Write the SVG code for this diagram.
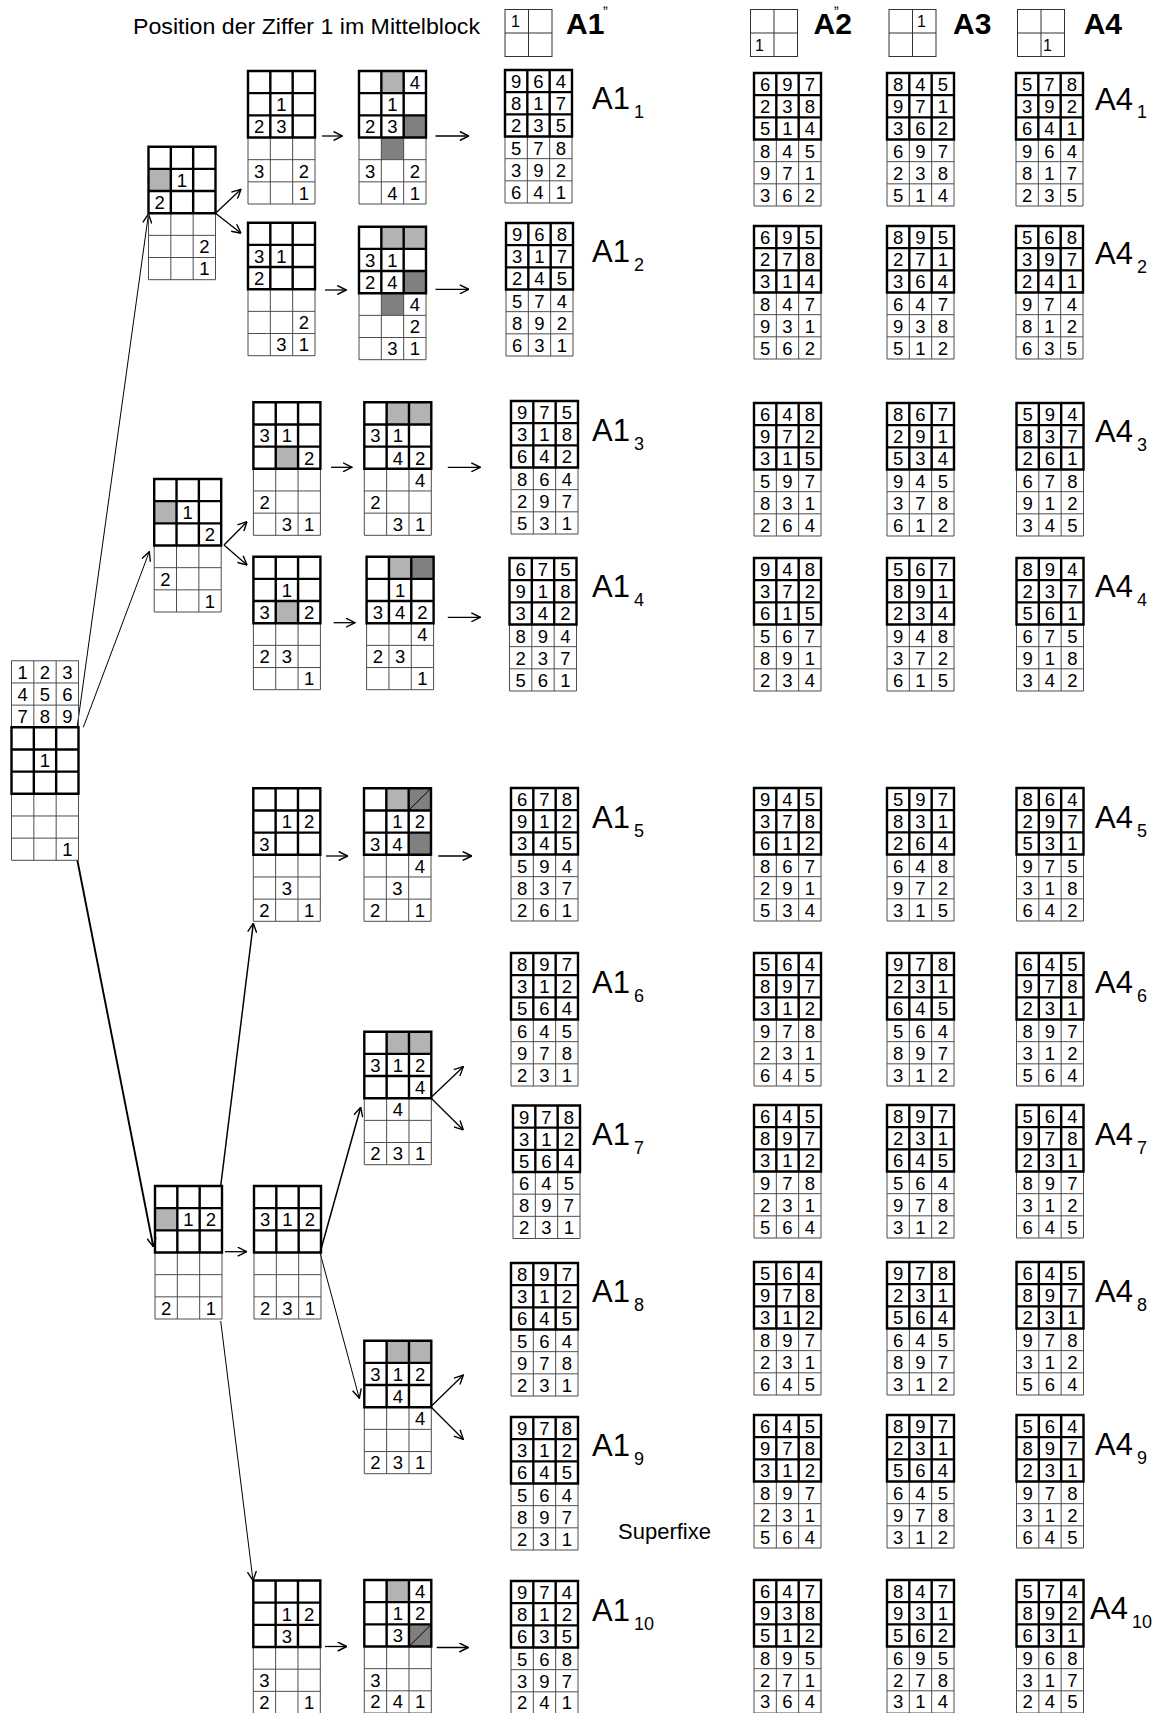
<svg xmlns="http://www.w3.org/2000/svg" xmlns:xlink="http://www.w3.org/1999/xlink" width="1161" height="1713" viewBox="0 0 1161 1713">
<style>
text{font-family:"Liberation Sans",Arial,sans-serif;fill:#000}
.d{font-size:18.5px;text-anchor:middle}
.thin{fill:none;stroke:#4d4d4d;stroke-width:1}
.thick{fill:none;stroke:#000;stroke-width:2.4}
.lg{fill:#b3b3b3}
.dg{fill:#808080}
.hb{fill:none;stroke:#333;stroke-width:1}
.hn{font-size:16px}
.hl{font-size:30px;font-weight:bold}
.lbl{font-size:31px}
.sub{font-size:18px}
.cn line{fill:none;stroke:#000;stroke-width:1.3;marker-end:url(#ah)}
.cn line.a{stroke-width:1}
.cn line.b{stroke-width:1.9}
.cn line.m{stroke-width:1.5}
.dl{stroke:#000;stroke-width:1}
</style>
<defs>
<marker id="ah" viewBox="0 0 10 10" refX="9.5" refY="5" markerWidth="10" markerHeight="10" markerUnits="userSpaceOnUse" orient="auto"><path d="M0.5,0.5L9.5,5L0.5,9.5" fill="none" stroke="#000" stroke-width="1.4"/></marker>
<g id="rg">
<path class="thin" d="M0,66.5V133H67V66.5M22.33,66.5V133M44.67,66.5V133M0,88.67H67M0,110.83H67"/>
<path class="thick" d="M0,0H67V66.5H0ZM22.33,0V66.5M44.67,0V66.5M0,22.17H67M0,44.33H67"/>
</g>
<g id="hbx"><rect class="hb" x="0" y="0" width="47" height="47"/><path class="hb" d="M23.5,0V47M0,23.5H47"/></g>
</defs>
<rect width="1161" height="1713" fill="#fff"/>

<g id="header">
<text x="133" y="34" font-size="22" textLength="347" lengthAdjust="spacingAndGlyphs">Position der Ziffer 1 im Mittelblock</text>
<use href="#hbx" x="505" y="9.5"/><text class="hn" x="511" y="27">1</text>
<text class="hl" x="566" y="34.3">A1</text>
<use href="#hbx" x="750.5" y="9.5"/><text class="hn" x="755" y="51">1</text>
<text class="hl" x="813.6" y="34.3">A2</text>
<use href="#hbx" x="889" y="9.5"/><text class="hn" x="917" y="27">1</text>
<text class="hl" x="953" y="34.3">A3</text>
<use href="#hbx" x="1017.5" y="9.5"/><text class="hn" x="1043" y="51">1</text>
<text class="hl" x="1083.7" y="34.3">A4</text>
<text x="603" y="8" font-size="14">„</text>
<text x="834" y="8" font-size="14">„</text>
</g>

<g id="connectors" class="cn">
<line class="a" x1="77.3" y1="726" x2="148.5" y2="214"/>
<line class="a" x1="83.3" y1="727.3" x2="149.3" y2="551.7"/>
<line class="b" x1="77.3" y1="860" x2="153.3" y2="1246.7"/>
<line x1="215.5" y1="213.3" x2="241" y2="189.3"/>
<line x1="215.5" y1="213.3" x2="241" y2="233.3"/>
<line x1="322" y1="136" x2="342.5" y2="136"/>
<line x1="435.5" y1="136" x2="468.8" y2="136"/>
<line x1="325" y1="290" x2="346.3" y2="290"/>
<line x1="435.5" y1="289.3" x2="468.8" y2="289.3"/>
<line x1="224" y1="545" x2="247" y2="521.7"/>
<line x1="224" y1="545" x2="247" y2="565"/>
<line x1="331" y1="467.3" x2="352" y2="467.3"/>
<line x1="447.8" y1="467.3" x2="480.3" y2="467.3"/>
<line x1="333.7" y1="622.7" x2="355" y2="622.7"/>
<line x1="447.8" y1="617.3" x2="480.3" y2="617.3"/>
<line class="m" x1="220.7" y1="1186" x2="253.3" y2="923.3"/>
<line x1="326" y1="856" x2="347.7" y2="856"/>
<line x1="438.3" y1="856" x2="471.7" y2="856"/>
<line x1="225" y1="1251.7" x2="246.7" y2="1251.7"/>
<line class="a" x1="220.7" y1="1321" x2="253" y2="1580.5"/>
<line class="m" x1="320" y1="1252.7" x2="360.7" y2="1107.3"/>
<line class="a" x1="320" y1="1252.7" x2="359.3" y2="1398.3"/>
<line x1="430.7" y1="1097.7" x2="463.3" y2="1066.7"/>
<line x1="430.7" y1="1097.7" x2="463.3" y2="1130"/>
<line x1="430.7" y1="1406.7" x2="463.3" y2="1375"/>
<line x1="430.7" y1="1406.7" x2="463.3" y2="1439.3"/>
<line x1="325" y1="1646.5" x2="346.7" y2="1646.5"/>
<line x1="436.7" y1="1647.5" x2="468.3" y2="1647.5"/>
</g>

<g id="root" transform="translate(11.5,727.3)">
<rect class="thin" x="0" y="-66.5" width="67" height="66.5"/>
<path class="thin" d="M22.33,-66.5V0M44.67,-66.5V0M0,-44.33H67M0,-22.17H67"/>
<text class="d"><tspan x="11.2 33.5 55.8" y="-48.5">123</tspan><tspan x="11.2 33.5 55.8" y="-26.3">456</tspan><tspan x="11.2 33.5 55.8" y="-4.2">789</tspan></text>
<use href="#rg"/>
<text class="d"><tspan x="33.5" y="40.2">1</tspan><tspan x="55.8" y="128.8">1</tspan></text>
</g>

<g id="N1" transform="translate(148.5,146.7)">
<rect class="lg" x="0" y="22.17" width="22.33" height="22.17"/>
<use href="#rg"/>
<text class="d"><tspan x="33.5" y="40.2">1</tspan><tspan x="11.2" y="62.3">2</tspan><tspan x="55.8" y="106.7">2</tspan><tspan x="55.8" y="128.8">1</tspan></text>
</g>
<g id="N1a" transform="translate(248,71)">
<use href="#rg"/>
<text class="d"><tspan x="33.5" y="40.2">1</tspan><tspan x="11.2" y="62.3">2</tspan><tspan x="33.5" y="62.3">3</tspan><tspan x="11.2" y="106.7">3</tspan><tspan x="55.8" y="106.7">2</tspan><tspan x="55.8" y="128.8">1</tspan></text>
</g>
<g id="N1b" transform="translate(359,71)">
<rect class="lg" x="22.33" y="0" width="22.33" height="22.17"/>
<rect class="dg" x="44.67" y="44.33" width="22.33" height="22.17"/>
<rect class="dg" x="22.33" y="66.5" width="22.33" height="22.17"/>
<use href="#rg"/>
<text class="d"><tspan x="55.8" y="18">4</tspan><tspan x="33.5" y="40.2">1</tspan><tspan x="11.2" y="62.3">2</tspan><tspan x="33.5" y="62.3">3</tspan><tspan x="11.2" y="106.7">3</tspan><tspan x="55.8" y="106.7">2</tspan><tspan x="33.5" y="128.8">4</tspan><tspan x="55.8" y="128.8">1</tspan></text>
</g>
<g id="N1c" transform="translate(248,222.7)">
<use href="#rg"/>
<text class="d"><tspan x="11.2" y="40.2">3</tspan><tspan x="33.5" y="40.2">1</tspan><tspan x="11.2" y="62.3">2</tspan><tspan x="55.8" y="106.7">2</tspan><tspan x="33.5" y="128.8">3</tspan><tspan x="55.8" y="128.8">1</tspan></text>
</g>
<g id="N1d" transform="translate(359,226.7)">
<rect class="lg" x="22.33" y="0" width="44.67" height="22.17"/>
<rect class="dg" x="44.67" y="44.33" width="22.33" height="22.17"/>
<rect class="dg" x="22.33" y="66.5" width="22.33" height="22.17"/>
<use href="#rg"/>
<text class="d"><tspan x="11.2" y="40.2">3</tspan><tspan x="33.5" y="40.2">1</tspan><tspan x="11.2" y="62.3">2</tspan><tspan x="33.5" y="62.3">4</tspan><tspan x="55.8" y="84.5">4</tspan><tspan x="55.8" y="106.7">2</tspan><tspan x="33.5" y="128.8">3</tspan><tspan x="55.8" y="128.8">1</tspan></text>
</g>

<g id="N2" transform="translate(154.2,479)">
<rect class="lg" x="0" y="22.17" width="22.33" height="22.17"/>
<use href="#rg"/>
<text class="d"><tspan x="33.5" y="40.2">1</tspan><tspan x="55.8" y="62.3">2</tspan><tspan x="11.2" y="106.7">2</tspan><tspan x="55.8" y="128.8">1</tspan></text>
</g>
<g id="N2a" transform="translate(253.4,402.3)">
<rect class="lg" x="22.33" y="44.33" width="22.33" height="22.17"/>
<use href="#rg"/>
<text class="d"><tspan x="11.2" y="40.2">3</tspan><tspan x="33.5" y="40.2">1</tspan><tspan x="55.8" y="62.3">2</tspan><tspan x="11.2" y="106.7">2</tspan><tspan x="33.5" y="128.8">3</tspan><tspan x="55.8" y="128.8">1</tspan></text>
</g>
<g id="N2b" transform="translate(364.3,402.3)">
<rect class="lg" x="22.33" y="0" width="44.67" height="22.17"/>
<use href="#rg"/>
<text class="d"><tspan x="11.2" y="40.2">3</tspan><tspan x="33.5" y="40.2">1</tspan><tspan x="33.5" y="62.3">4</tspan><tspan x="55.8" y="62.3">2</tspan><tspan x="55.8" y="84.5">4</tspan><tspan x="11.2" y="106.7">2</tspan><tspan x="33.5" y="128.8">3</tspan><tspan x="55.8" y="128.8">1</tspan></text>
</g>
<g id="N2c" transform="translate(253.4,556.7)">
<rect class="lg" x="22.33" y="44.33" width="22.33" height="22.17"/>
<use href="#rg"/>
<text class="d"><tspan x="33.5" y="40.2">1</tspan><tspan x="11.2" y="62.3">3</tspan><tspan x="55.8" y="62.3">2</tspan><tspan x="11.2" y="106.7">2</tspan><tspan x="33.5" y="106.7">3</tspan><tspan x="55.8" y="128.8">1</tspan></text>
</g>
<g id="N2d" transform="translate(366.6,556.7)">
<rect class="lg" x="22.33" y="0" width="22.33" height="22.17"/>
<rect class="dg" x="44.67" y="0" width="22.33" height="22.17"/>
<use href="#rg"/>
<text class="d"><tspan x="33.5" y="40.2">1</tspan><tspan x="11.2" y="62.3">3</tspan><tspan x="33.5" y="62.3">4</tspan><tspan x="55.8" y="62.3">2</tspan><tspan x="55.8" y="84.5">4</tspan><tspan x="11.2" y="106.7">2</tspan><tspan x="33.5" y="106.7">3</tspan><tspan x="55.8" y="128.8">1</tspan></text>
</g>

<g id="L5a" transform="translate(253.3,788.3)">
<use href="#rg"/>
<text class="d"><tspan x="33.5" y="40.2">1</tspan><tspan x="55.8" y="40.2">2</tspan><tspan x="11.2" y="62.3">3</tspan><tspan x="33.5" y="106.7">3</tspan><tspan x="11.2" y="128.8">2</tspan><tspan x="55.8" y="128.8">1</tspan></text>
</g>
<g id="L5b" transform="translate(364,788.3)">
<rect class="lg" x="22.33" y="0" width="22.33" height="22.17"/>
<rect class="dg" x="44.67" y="0" width="22.33" height="22.17"/>
<rect class="dg" x="44.67" y="44.33" width="22.33" height="22.17"/>
<line class="dl" x1="44.67" y1="22.17" x2="67" y2="0"/>
<use href="#rg"/>
<text class="d"><tspan x="33.5" y="40.2">1</tspan><tspan x="55.8" y="40.2">2</tspan><tspan x="11.2" y="62.3">3</tspan><tspan x="33.5" y="62.3">4</tspan><tspan x="55.8" y="84.5">4</tspan><tspan x="33.5" y="106.7">3</tspan><tspan x="11.2" y="128.8">2</tspan><tspan x="55.8" y="128.8">1</tspan></text>
</g>

<g id="N3" transform="translate(155,1186)">
<rect class="lg" x="0" y="22.17" width="22.33" height="22.17"/>
<use href="#rg"/>
<text class="d"><tspan x="33.5" y="40.2">1</tspan><tspan x="55.8" y="40.2">2</tspan><tspan x="11.2" y="128.8">2</tspan><tspan x="55.8" y="128.8">1</tspan></text>
</g>
<g id="N3b" transform="translate(254,1186)">
<use href="#rg"/>
<text class="d"><tspan x="11.2 33.5 55.8" y="40.2">312</tspan><tspan x="11.2 33.5 55.8" y="128.8">231</tspan></text>
</g>
<g id="N6a" transform="translate(364.3,1031.7)">
<rect class="lg" x="22.33" y="0" width="44.67" height="22.17"/>
<use href="#rg"/>
<text class="d"><tspan x="11.2 33.5 55.8" y="40.2">312</tspan><tspan x="55.8" y="62.3">4</tspan><tspan x="33.5" y="84.5">4</tspan><tspan x="11.2 33.5 55.8" y="128.8">231</tspan></text>
</g>
<g id="N8a" transform="translate(364.3,1340.7)">
<rect class="lg" x="22.33" y="0" width="44.67" height="22.17"/>
<use href="#rg"/>
<text class="d"><tspan x="11.2 33.5 55.8" y="40.2">312</tspan><tspan x="33.5" y="62.3">4</tspan><tspan x="55.8" y="84.5">4</tspan><tspan x="11.2 33.5 55.8" y="128.8">231</tspan></text>
</g>
<g id="L10a" transform="translate(253.3,1580.5)">
<use href="#rg"/>
<text class="d"><tspan x="33.5" y="40.2">1</tspan><tspan x="55.8" y="40.2">2</tspan><tspan x="33.5" y="62.3">3</tspan><tspan x="11.2" y="106.7">3</tspan><tspan x="11.2" y="128">2</tspan><tspan x="55.8" y="128">1</tspan></text>
</g>
<g id="L10b" transform="translate(364.3,1580)">
<rect class="lg" x="22.33" y="0" width="22.33" height="22.17"/>
<rect class="dg" x="44.67" y="44.33" width="22.33" height="22.17"/>
<line class="dl" x1="44.67" y1="66.5" x2="67" y2="44.33"/>
<use href="#rg"/>
<text class="d"><tspan x="55.8" y="18">4</tspan><tspan x="33.5" y="40.2">1</tspan><tspan x="55.8" y="40.2">2</tspan><tspan x="33.5" y="62.3">3</tspan><tspan x="11.2" y="106.7">3</tspan><tspan x="11.2 33.5 55.8" y="128">241</tspan></text>
</g>

<text x="618" y="1539" font-size="22">Superfixe</text>

<g id="results">
<g id="A1_1" transform="translate(505,70)"><use href="#rg"/><text class="d"><tspan x="11.2 33.5 55.8" y="18">964</tspan><tspan x="11.2 33.5 55.8" y="40.2">817</tspan><tspan x="11.2 33.5 55.8" y="62.3">235</tspan><tspan x="11.2 33.5 55.8" y="84.5">578</tspan><tspan x="11.2 33.5 55.8" y="106.7">392</tspan><tspan x="11.2 33.5 55.8" y="128.8">641</tspan></text></g>
<g id="A2_1" transform="translate(754,73)"><use href="#rg"/><text class="d"><tspan x="11.2 33.5 55.8" y="18">697</tspan><tspan x="11.2 33.5 55.8" y="40.2">238</tspan><tspan x="11.2 33.5 55.8" y="62.3">514</tspan><tspan x="11.2 33.5 55.8" y="84.5">845</tspan><tspan x="11.2 33.5 55.8" y="106.7">971</tspan><tspan x="11.2 33.5 55.8" y="128.8">362</tspan></text></g>
<g id="A3_1" transform="translate(887,73)"><use href="#rg"/><text class="d"><tspan x="11.2 33.5 55.8" y="18">845</tspan><tspan x="11.2 33.5 55.8" y="40.2">971</tspan><tspan x="11.2 33.5 55.8" y="62.3">362</tspan><tspan x="11.2 33.5 55.8" y="84.5">697</tspan><tspan x="11.2 33.5 55.8" y="106.7">238</tspan><tspan x="11.2 33.5 55.8" y="128.8">514</tspan></text></g>
<g id="A4_1" transform="translate(1016,73)"><use href="#rg"/><text class="d"><tspan x="11.2 33.5 55.8" y="18">578</tspan><tspan x="11.2 33.5 55.8" y="40.2">392</tspan><tspan x="11.2 33.5 55.8" y="62.3">641</tspan><tspan x="11.2 33.5 55.8" y="84.5">964</tspan><tspan x="11.2 33.5 55.8" y="106.7">817</tspan><tspan x="11.2 33.5 55.8" y="128.8">235</tspan></text></g>

<g id="A1_2" transform="translate(506,223)"><use href="#rg"/><text class="d"><tspan x="11.2 33.5 55.8" y="18">968</tspan><tspan x="11.2 33.5 55.8" y="40.2">317</tspan><tspan x="11.2 33.5 55.8" y="62.3">245</tspan><tspan x="11.2 33.5 55.8" y="84.5">574</tspan><tspan x="11.2 33.5 55.8" y="106.7">892</tspan><tspan x="11.2 33.5 55.8" y="128.8">631</tspan></text></g>
<g id="A2_2" transform="translate(754,226)"><use href="#rg"/><text class="d"><tspan x="11.2 33.5 55.8" y="18">695</tspan><tspan x="11.2 33.5 55.8" y="40.2">278</tspan><tspan x="11.2 33.5 55.8" y="62.3">314</tspan><tspan x="11.2 33.5 55.8" y="84.5">847</tspan><tspan x="11.2 33.5 55.8" y="106.7">931</tspan><tspan x="11.2 33.5 55.8" y="128.8">562</tspan></text></g>
<g id="A3_2" transform="translate(887,226)"><use href="#rg"/><text class="d"><tspan x="11.2 33.5 55.8" y="18">895</tspan><tspan x="11.2 33.5 55.8" y="40.2">271</tspan><tspan x="11.2 33.5 55.8" y="62.3">364</tspan><tspan x="11.2 33.5 55.8" y="84.5">647</tspan><tspan x="11.2 33.5 55.8" y="106.7">938</tspan><tspan x="11.2 33.5 55.8" y="128.8">512</tspan></text></g>
<g id="A4_2" transform="translate(1016,226)"><use href="#rg"/><text class="d"><tspan x="11.2 33.5 55.8" y="18">568</tspan><tspan x="11.2 33.5 55.8" y="40.2">397</tspan><tspan x="11.2 33.5 55.8" y="62.3">241</tspan><tspan x="11.2 33.5 55.8" y="84.5">974</tspan><tspan x="11.2 33.5 55.8" y="106.7">812</tspan><tspan x="11.2 33.5 55.8" y="128.8">635</tspan></text></g>

<g id="A1_3" transform="translate(511,401)"><use href="#rg"/><text class="d"><tspan x="11.2 33.5 55.8" y="18">975</tspan><tspan x="11.2 33.5 55.8" y="40.2">318</tspan><tspan x="11.2 33.5 55.8" y="62.3">642</tspan><tspan x="11.2 33.5 55.8" y="84.5">864</tspan><tspan x="11.2 33.5 55.8" y="106.7">297</tspan><tspan x="11.2 33.5 55.8" y="128.8">531</tspan></text></g>
<g id="A2_3" transform="translate(754,403)"><use href="#rg"/><text class="d"><tspan x="11.2 33.5 55.8" y="18">648</tspan><tspan x="11.2 33.5 55.8" y="40.2">972</tspan><tspan x="11.2 33.5 55.8" y="62.3">315</tspan><tspan x="11.2 33.5 55.8" y="84.5">597</tspan><tspan x="11.2 33.5 55.8" y="106.7">831</tspan><tspan x="11.2 33.5 55.8" y="128.8">264</tspan></text></g>
<g id="A3_3" transform="translate(887,403)"><use href="#rg"/><text class="d"><tspan x="11.2 33.5 55.8" y="18">867</tspan><tspan x="11.2 33.5 55.8" y="40.2">291</tspan><tspan x="11.2 33.5 55.8" y="62.3">534</tspan><tspan x="11.2 33.5 55.8" y="84.5">945</tspan><tspan x="11.2 33.5 55.8" y="106.7">378</tspan><tspan x="11.2 33.5 55.8" y="128.8">612</tspan></text></g>
<g id="A4_3" transform="translate(1016.5,403)"><use href="#rg"/><text class="d"><tspan x="11.2 33.5 55.8" y="18">594</tspan><tspan x="11.2 33.5 55.8" y="40.2">837</tspan><tspan x="11.2 33.5 55.8" y="62.3">261</tspan><tspan x="11.2 33.5 55.8" y="84.5">678</tspan><tspan x="11.2 33.5 55.8" y="106.7">912</tspan><tspan x="11.2 33.5 55.8" y="128.8">345</tspan></text></g>

<g id="A1_4" transform="translate(509.5,558)"><use href="#rg"/><text class="d"><tspan x="11.2 33.5 55.8" y="18">675</tspan><tspan x="11.2 33.5 55.8" y="40.2">918</tspan><tspan x="11.2 33.5 55.8" y="62.3">342</tspan><tspan x="11.2 33.5 55.8" y="84.5">894</tspan><tspan x="11.2 33.5 55.8" y="106.7">237</tspan><tspan x="11.2 33.5 55.8" y="128.8">561</tspan></text></g>
<g id="A2_4" transform="translate(754,558)"><use href="#rg"/><text class="d"><tspan x="11.2 33.5 55.8" y="18">948</tspan><tspan x="11.2 33.5 55.8" y="40.2">372</tspan><tspan x="11.2 33.5 55.8" y="62.3">615</tspan><tspan x="11.2 33.5 55.8" y="84.5">567</tspan><tspan x="11.2 33.5 55.8" y="106.7">891</tspan><tspan x="11.2 33.5 55.8" y="128.8">234</tspan></text></g>
<g id="A3_4" transform="translate(887,558)"><use href="#rg"/><text class="d"><tspan x="11.2 33.5 55.8" y="18">567</tspan><tspan x="11.2 33.5 55.8" y="40.2">891</tspan><tspan x="11.2 33.5 55.8" y="62.3">234</tspan><tspan x="11.2 33.5 55.8" y="84.5">948</tspan><tspan x="11.2 33.5 55.8" y="106.7">372</tspan><tspan x="11.2 33.5 55.8" y="128.8">615</tspan></text></g>
<g id="A4_4" transform="translate(1016.5,558)"><use href="#rg"/><text class="d"><tspan x="11.2 33.5 55.8" y="18">894</tspan><tspan x="11.2 33.5 55.8" y="40.2">237</tspan><tspan x="11.2 33.5 55.8" y="62.3">561</tspan><tspan x="11.2 33.5 55.8" y="84.5">675</tspan><tspan x="11.2 33.5 55.8" y="106.7">918</tspan><tspan x="11.2 33.5 55.8" y="128.8">342</tspan></text></g>

<g id="A1_5" transform="translate(511,788)"><use href="#rg"/><text class="d"><tspan x="11.2 33.5 55.8" y="18">678</tspan><tspan x="11.2 33.5 55.8" y="40.2">912</tspan><tspan x="11.2 33.5 55.8" y="62.3">345</tspan><tspan x="11.2 33.5 55.8" y="84.5">594</tspan><tspan x="11.2 33.5 55.8" y="106.7">837</tspan><tspan x="11.2 33.5 55.8" y="128.8">261</tspan></text></g>
<g id="A2_5" transform="translate(754,788)"><use href="#rg"/><text class="d"><tspan x="11.2 33.5 55.8" y="18">945</tspan><tspan x="11.2 33.5 55.8" y="40.2">378</tspan><tspan x="11.2 33.5 55.8" y="62.3">612</tspan><tspan x="11.2 33.5 55.8" y="84.5">867</tspan><tspan x="11.2 33.5 55.8" y="106.7">291</tspan><tspan x="11.2 33.5 55.8" y="128.8">534</tspan></text></g>
<g id="A3_5" transform="translate(887,788)"><use href="#rg"/><text class="d"><tspan x="11.2 33.5 55.8" y="18">597</tspan><tspan x="11.2 33.5 55.8" y="40.2">831</tspan><tspan x="11.2 33.5 55.8" y="62.3">264</tspan><tspan x="11.2 33.5 55.8" y="84.5">648</tspan><tspan x="11.2 33.5 55.8" y="106.7">972</tspan><tspan x="11.2 33.5 55.8" y="128.8">315</tspan></text></g>
<g id="A4_5" transform="translate(1016.5,788)"><use href="#rg"/><text class="d"><tspan x="11.2 33.5 55.8" y="18">864</tspan><tspan x="11.2 33.5 55.8" y="40.2">297</tspan><tspan x="11.2 33.5 55.8" y="62.3">531</tspan><tspan x="11.2 33.5 55.8" y="84.5">975</tspan><tspan x="11.2 33.5 55.8" y="106.7">318</tspan><tspan x="11.2 33.5 55.8" y="128.8">642</tspan></text></g>

<g id="A1_6" transform="translate(511,953)"><use href="#rg"/><text class="d"><tspan x="11.2 33.5 55.8" y="18">897</tspan><tspan x="11.2 33.5 55.8" y="40.2">312</tspan><tspan x="11.2 33.5 55.8" y="62.3">564</tspan><tspan x="11.2 33.5 55.8" y="84.5">645</tspan><tspan x="11.2 33.5 55.8" y="106.7">978</tspan><tspan x="11.2 33.5 55.8" y="128.8">231</tspan></text></g>
<g id="A2_6" transform="translate(754,953)"><use href="#rg"/><text class="d"><tspan x="11.2 33.5 55.8" y="18">564</tspan><tspan x="11.2 33.5 55.8" y="40.2">897</tspan><tspan x="11.2 33.5 55.8" y="62.3">312</tspan><tspan x="11.2 33.5 55.8" y="84.5">978</tspan><tspan x="11.2 33.5 55.8" y="106.7">231</tspan><tspan x="11.2 33.5 55.8" y="128.8">645</tspan></text></g>
<g id="A3_6" transform="translate(887,953)"><use href="#rg"/><text class="d"><tspan x="11.2 33.5 55.8" y="18">978</tspan><tspan x="11.2 33.5 55.8" y="40.2">231</tspan><tspan x="11.2 33.5 55.8" y="62.3">645</tspan><tspan x="11.2 33.5 55.8" y="84.5">564</tspan><tspan x="11.2 33.5 55.8" y="106.7">897</tspan><tspan x="11.2 33.5 55.8" y="128.8">312</tspan></text></g>
<g id="A4_6" transform="translate(1016.5,953)"><use href="#rg"/><text class="d"><tspan x="11.2 33.5 55.8" y="18">645</tspan><tspan x="11.2 33.5 55.8" y="40.2">978</tspan><tspan x="11.2 33.5 55.8" y="62.3">231</tspan><tspan x="11.2 33.5 55.8" y="84.5">897</tspan><tspan x="11.2 33.5 55.8" y="106.7">312</tspan><tspan x="11.2 33.5 55.8" y="128.8">564</tspan></text></g>

<g id="A1_7" transform="translate(513,1105.5)"><use href="#rg"/><text class="d"><tspan x="11.2 33.5 55.8" y="18">978</tspan><tspan x="11.2 33.5 55.8" y="40.2">312</tspan><tspan x="11.2 33.5 55.8" y="62.3">564</tspan><tspan x="11.2 33.5 55.8" y="84.5">645</tspan><tspan x="11.2 33.5 55.8" y="106.7">897</tspan><tspan x="11.2 33.5 55.8" y="128.8">231</tspan></text></g>
<g id="A2_7" transform="translate(754,1105)"><use href="#rg"/><text class="d"><tspan x="11.2 33.5 55.8" y="18">645</tspan><tspan x="11.2 33.5 55.8" y="40.2">897</tspan><tspan x="11.2 33.5 55.8" y="62.3">312</tspan><tspan x="11.2 33.5 55.8" y="84.5">978</tspan><tspan x="11.2 33.5 55.8" y="106.7">231</tspan><tspan x="11.2 33.5 55.8" y="128.8">564</tspan></text></g>
<g id="A3_7" transform="translate(887,1105)"><use href="#rg"/><text class="d"><tspan x="11.2 33.5 55.8" y="18">897</tspan><tspan x="11.2 33.5 55.8" y="40.2">231</tspan><tspan x="11.2 33.5 55.8" y="62.3">645</tspan><tspan x="11.2 33.5 55.8" y="84.5">564</tspan><tspan x="11.2 33.5 55.8" y="106.7">978</tspan><tspan x="11.2 33.5 55.8" y="128.8">312</tspan></text></g>
<g id="A4_7" transform="translate(1016.5,1105)"><use href="#rg"/><text class="d"><tspan x="11.2 33.5 55.8" y="18">564</tspan><tspan x="11.2 33.5 55.8" y="40.2">978</tspan><tspan x="11.2 33.5 55.8" y="62.3">231</tspan><tspan x="11.2 33.5 55.8" y="84.5">897</tspan><tspan x="11.2 33.5 55.8" y="106.7">312</tspan><tspan x="11.2 33.5 55.8" y="128.8">645</tspan></text></g>

<g id="A1_8" transform="translate(511,1263)"><use href="#rg"/><text class="d"><tspan x="11.2 33.5 55.8" y="18">897</tspan><tspan x="11.2 33.5 55.8" y="40.2">312</tspan><tspan x="11.2 33.5 55.8" y="62.3">645</tspan><tspan x="11.2 33.5 55.8" y="84.5">564</tspan><tspan x="11.2 33.5 55.8" y="106.7">978</tspan><tspan x="11.2 33.5 55.8" y="128.8">231</tspan></text></g>
<g id="A2_8" transform="translate(754,1262)"><use href="#rg"/><text class="d"><tspan x="11.2 33.5 55.8" y="18">564</tspan><tspan x="11.2 33.5 55.8" y="40.2">978</tspan><tspan x="11.2 33.5 55.8" y="62.3">312</tspan><tspan x="11.2 33.5 55.8" y="84.5">897</tspan><tspan x="11.2 33.5 55.8" y="106.7">231</tspan><tspan x="11.2 33.5 55.8" y="128.8">645</tspan></text></g>
<g id="A3_8" transform="translate(887,1262)"><use href="#rg"/><text class="d"><tspan x="11.2 33.5 55.8" y="18">978</tspan><tspan x="11.2 33.5 55.8" y="40.2">231</tspan><tspan x="11.2 33.5 55.8" y="62.3">564</tspan><tspan x="11.2 33.5 55.8" y="84.5">645</tspan><tspan x="11.2 33.5 55.8" y="106.7">897</tspan><tspan x="11.2 33.5 55.8" y="128.8">312</tspan></text></g>
<g id="A4_8" transform="translate(1016.5,1262)"><use href="#rg"/><text class="d"><tspan x="11.2 33.5 55.8" y="18">645</tspan><tspan x="11.2 33.5 55.8" y="40.2">897</tspan><tspan x="11.2 33.5 55.8" y="62.3">231</tspan><tspan x="11.2 33.5 55.8" y="84.5">978</tspan><tspan x="11.2 33.5 55.8" y="106.7">312</tspan><tspan x="11.2 33.5 55.8" y="128.8">564</tspan></text></g>

<g id="A1_9" transform="translate(511,1417)"><use href="#rg"/><text class="d"><tspan x="11.2 33.5 55.8" y="18">978</tspan><tspan x="11.2 33.5 55.8" y="40.2">312</tspan><tspan x="11.2 33.5 55.8" y="62.3">645</tspan><tspan x="11.2 33.5 55.8" y="84.5">564</tspan><tspan x="11.2 33.5 55.8" y="106.7">897</tspan><tspan x="11.2 33.5 55.8" y="128.8">231</tspan></text></g>
<g id="A2_9" transform="translate(754,1415)"><use href="#rg"/><text class="d"><tspan x="11.2 33.5 55.8" y="18">645</tspan><tspan x="11.2 33.5 55.8" y="40.2">978</tspan><tspan x="11.2 33.5 55.8" y="62.3">312</tspan><tspan x="11.2 33.5 55.8" y="84.5">897</tspan><tspan x="11.2 33.5 55.8" y="106.7">231</tspan><tspan x="11.2 33.5 55.8" y="128.8">564</tspan></text></g>
<g id="A3_9" transform="translate(887,1415)"><use href="#rg"/><text class="d"><tspan x="11.2 33.5 55.8" y="18">897</tspan><tspan x="11.2 33.5 55.8" y="40.2">231</tspan><tspan x="11.2 33.5 55.8" y="62.3">564</tspan><tspan x="11.2 33.5 55.8" y="84.5">645</tspan><tspan x="11.2 33.5 55.8" y="106.7">978</tspan><tspan x="11.2 33.5 55.8" y="128.8">312</tspan></text></g>
<g id="A4_9" transform="translate(1016.5,1415)"><use href="#rg"/><text class="d"><tspan x="11.2 33.5 55.8" y="18">564</tspan><tspan x="11.2 33.5 55.8" y="40.2">897</tspan><tspan x="11.2 33.5 55.8" y="62.3">231</tspan><tspan x="11.2 33.5 55.8" y="84.5">978</tspan><tspan x="11.2 33.5 55.8" y="106.7">312</tspan><tspan x="11.2 33.5 55.8" y="128.8">645</tspan></text></g>

<g id="A1_10" transform="translate(511,1581)"><use href="#rg"/><text class="d"><tspan x="11.2 33.5 55.8" y="18">974</tspan><tspan x="11.2 33.5 55.8" y="40.2">812</tspan><tspan x="11.2 33.5 55.8" y="62.3">635</tspan><tspan x="11.2 33.5 55.8" y="84.5">568</tspan><tspan x="11.2 33.5 55.8" y="106.7">397</tspan><tspan x="11.2 33.5 55.8" y="128">241</tspan></text></g>
<g id="A2_10" transform="translate(754,1580)"><use href="#rg"/><text class="d"><tspan x="11.2 33.5 55.8" y="18">647</tspan><tspan x="11.2 33.5 55.8" y="40.2">938</tspan><tspan x="11.2 33.5 55.8" y="62.3">512</tspan><tspan x="11.2 33.5 55.8" y="84.5">895</tspan><tspan x="11.2 33.5 55.8" y="106.7">271</tspan><tspan x="11.2 33.5 55.8" y="128">364</tspan></text></g>
<g id="A3_10" transform="translate(887,1580)"><use href="#rg"/><text class="d"><tspan x="11.2 33.5 55.8" y="18">847</tspan><tspan x="11.2 33.5 55.8" y="40.2">931</tspan><tspan x="11.2 33.5 55.8" y="62.3">562</tspan><tspan x="11.2 33.5 55.8" y="84.5">695</tspan><tspan x="11.2 33.5 55.8" y="106.7">278</tspan><tspan x="11.2 33.5 55.8" y="128">314</tspan></text></g>
<g id="A4_10" transform="translate(1016.5,1580)"><use href="#rg"/><text class="d"><tspan x="11.2 33.5 55.8" y="18">574</tspan><tspan x="11.2 33.5 55.8" y="40.2">892</tspan><tspan x="11.2 33.5 55.8" y="62.3">631</tspan><tspan x="11.2 33.5 55.8" y="84.5">968</tspan><tspan x="11.2 33.5 55.8" y="106.7">317</tspan><tspan x="11.2 33.5 55.8" y="128">245</tspan></text></g>
</g>

<g id="labels" class="lbl">
<text x="592" y="109">A1<tspan class="sub" dx="4" dy="9">1</tspan></text>
<text x="592" y="262">A1<tspan class="sub" dx="4" dy="9">2</tspan></text>
<text x="592" y="441">A1<tspan class="sub" dx="4" dy="9">3</tspan></text>
<text x="592" y="597">A1<tspan class="sub" dx="4" dy="9">4</tspan></text>
<text x="592" y="828">A1<tspan class="sub" dx="4" dy="9">5</tspan></text>
<text x="592" y="993">A1<tspan class="sub" dx="4" dy="9">6</tspan></text>
<text x="592" y="1145">A1<tspan class="sub" dx="4" dy="9">7</tspan></text>
<text x="592" y="1302">A1<tspan class="sub" dx="4" dy="9">8</tspan></text>
<text x="592" y="1456">A1<tspan class="sub" dx="4" dy="9">9</tspan></text>
<text x="592" y="1621">A1<tspan class="sub" dx="4" dy="9">10</tspan></text>
<text x="1095" y="110">A4<tspan class="sub" dx="4" dy="8">1</tspan></text>
<text x="1095" y="264">A4<tspan class="sub" dx="4" dy="9">2</tspan></text>
<text x="1095" y="442">A4<tspan class="sub" dx="4" dy="9">3</tspan></text>
<text x="1095" y="597">A4<tspan class="sub" dx="4" dy="9">4</tspan></text>
<text x="1095" y="828">A4<tspan class="sub" dx="4" dy="9">5</tspan></text>
<text x="1095" y="993">A4<tspan class="sub" dx="4" dy="9">6</tspan></text>
<text x="1095" y="1145">A4<tspan class="sub" dx="4" dy="9">7</tspan></text>
<text x="1095" y="1302">A4<tspan class="sub" dx="4" dy="9">8</tspan></text>
<text x="1095" y="1455">A4<tspan class="sub" dx="4" dy="9">9</tspan></text>
<text x="1090" y="1619">A4<tspan class="sub" dx="4" dy="9">10</tspan></text>
</g>
</svg>
